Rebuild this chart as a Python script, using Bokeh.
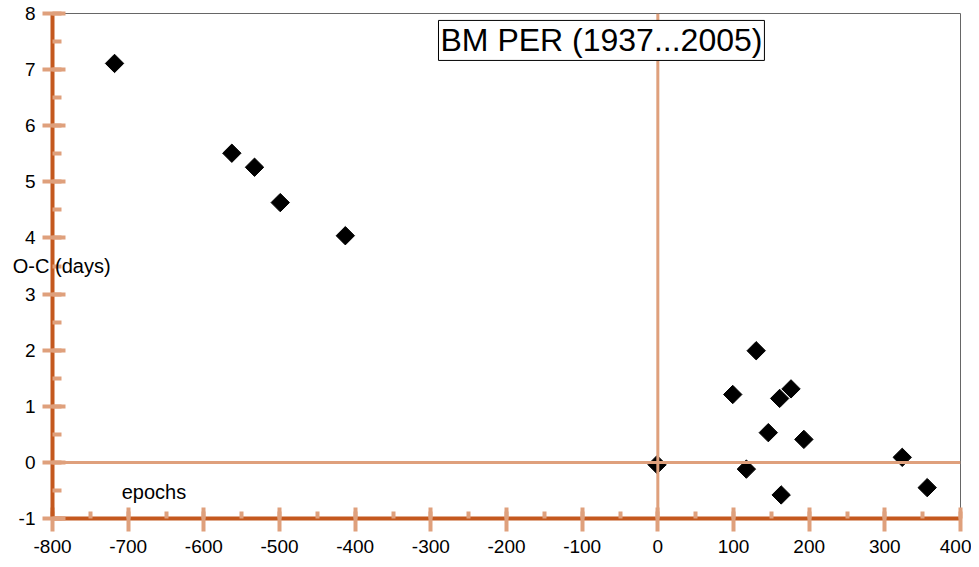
from bokeh.plotting import figure
from bokeh.models import Span, Label, SingleIntervalTicker, Range1d, PrintfTickFormatter
from bokeh.embed import file_html
from bokeh.resources import INLINE

# Data
epochs = [-718, -563, -533, -499, -413, -1, 99, 117, 130, 146, 161, 176, 163, 193, 323, 356]
oc_days = [7.11, 5.51, 5.26, 4.63, 4.04, -0.04, 1.21, -0.12, 1.99, 0.53, 1.14, 1.31, -0.58, 0.41, 0.09, -0.45]

title_text = "BM PER (1937...2005)"
x_label = "epochs"
y_label = "O-C (days)"

DARK = "#c4581e"
LIGHT = "#dfa07c"
FONT = "Liberation Sans"

p = figure(width=971, height=559, output_backend="svg", toolbar_location=None,
           x_range=Range1d(-800, 400), y_range=Range1d(-1, 8),
           min_border_left=52, min_border_right=11, min_border_top=13, min_border_bottom=41)

p.xgrid.visible = False
p.ygrid.visible = False
p.outline_line_color = "#666666"
p.outline_line_width = 1
p.background_fill_color = "white"
p.border_fill_color = "white"

p.xaxis.ticker = SingleIntervalTicker(interval=100, num_minor_ticks=2)
p.yaxis.ticker = SingleIntervalTicker(interval=1, num_minor_ticks=2)
p.xaxis.formatter = PrintfTickFormatter(format="%d")
p.yaxis.formatter = PrintfTickFormatter(format="%d")

for ax in (p.xaxis[0], p.yaxis[0]):
    ax.axis_line_color = DARK
    ax.axis_line_width = 4
    ax.major_tick_line_color = LIGHT
    ax.major_tick_line_width = 4
    ax.minor_tick_line_color = LIGHT
    ax.minor_tick_line_width = 4
    ax.major_label_text_font = FONT
    ax.major_label_text_font_size = "19px"
    ax.major_label_text_color = "black"

p.xaxis.major_tick_in = 11
p.xaxis.major_tick_out = 13
p.xaxis.minor_tick_in = 7
p.xaxis.minor_tick_out = 0
p.xaxis.major_label_standoff = 8

p.yaxis.major_tick_in = 13
p.yaxis.major_tick_out = 10
p.yaxis.minor_tick_in = 9
p.yaxis.minor_tick_out = 0
p.yaxis.major_label_standoff = 7

# y-axis title: horizontal, centred on the axis (range centre = 3.5)
p.yaxis.axis_label = y_label
p.yaxis.axis_label_orientation = "horizontal"
p.yaxis.axis_label_text_font = FONT
p.yaxis.axis_label_text_font_size = "20px"
p.yaxis.axis_label_text_font_style = "normal"
p.yaxis.axis_label_text_color = "black"
p.yaxis.axis_label_standoff = -95
for prop, val in (("axis_label_background_fill_color", "white"),
                  ("axis_label_background_fill_alpha", 1.0)):
    try:
        setattr(p.yaxis[0], prop, val)
    except Exception:
        pass

p.add_layout(Span(location=0, dimension="height", line_color=LIGHT, line_width=3))
p.add_layout(Span(location=0, dimension="width", line_color=LIGHT, line_width=3))

p.scatter(epochs, oc_days, marker="square", angle=0.785398, size=13,
          fill_color="black", line_color="black")

p.add_layout(Label(x=-666, y=-0.52, text=x_label, text_align="center", text_baseline="middle",
                   text_font=FONT, text_font_size="20px", text_color="black"))
p.add_layout(Label(x=-74.5, y=7.52, text=title_text, text_align="center", text_baseline="middle",
                   text_font=FONT, text_font_size="32px", text_color="black",
                   background_fill_color="white", background_fill_alpha=1.0,
                   border_line_color="black", border_line_width=1, padding=2))

open("out.html", "w").write(file_html(p, INLINE))
